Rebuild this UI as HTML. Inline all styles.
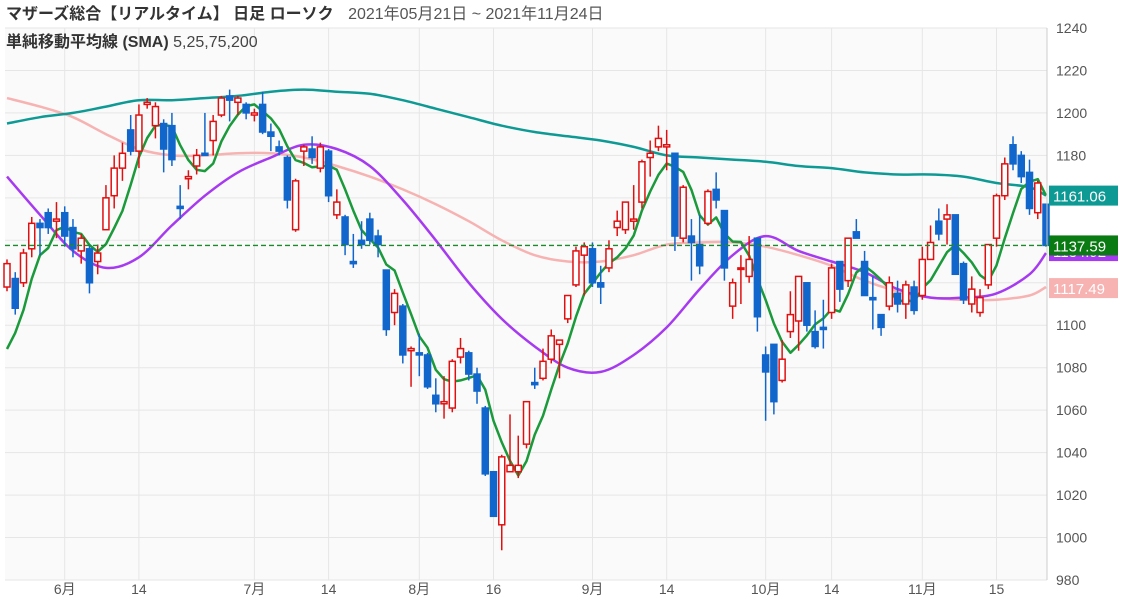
<!DOCTYPE html>
<html><head><meta charset="utf-8"><style>
body{margin:0;background:#fff;font-family:"Liberation Sans","Noto Sans CJK JP",sans-serif;}
svg text{font-family:"Liberation Sans","Noto Sans CJK JP",sans-serif;}
</style></head><body>
<svg id="chart" width="1122" height="602" xmlns="http://www.w3.org/2000/svg">
<rect x="5" y="28" width="1042" height="552" fill="#fafafa"/>
<g id="grid"></g><g id="ma"></g><g id="candles"></g><g id="axes"></g>
<text x="6" y="19" font-size="16" font-weight="bold" fill="#333">マザーズ総合【リアルタイム】 日足 ローソク <tspan font-weight="normal" fill="#555" dx="10">2021年05月21日 ~ 2021年11月24日</tspan></text>
<text x="6" y="47" font-size="16" font-weight="bold" fill="#333">単純移動平均線 (SMA) <tspan font-weight="normal" fill="#444">5,25,75,200</tspan></text>
</svg>
<script>
const opens=[1118,1122,1120,1136,1148,1153,1149,1153,1146,1135,1136,1130,1145,1161,1174,1192,1182,1204,1194,1195,1194,1156,1169,1175,1181,1187,1199,1208,1205,1204,1199,1204,1191,1184,1179,1145,1182,1183,1174,1182,1152,1151,1130,1140,1150,1142,1126,1106,1109,1088,1087,1086,1067,1063,1061,1085,1087,1077,1061,1031,1006,1031,1031,1044,1073,1075,1084,1091,1103,1119,1133,1136,1120,1127,1146,1145,1149,1158,1179,1184,1184,1181,1141,1142,1138,1148,1164,1154,1109,1127,1123,1141,1086,1091,1074,1097,1102,1120,1097,1099,1106,1130,1121,1144,1130,1113,1105,1109,1115,1110,1118,1114,1131,1149,1150,1152,1129,1110,1106,1119,1141,1161,1185,1180,1172,1153,1157];
const closes=[1129,1108,1134,1148,1146,1146,1150,1142,1136,1141,1120,1134,1160,1174,1181,1182,1199,1205,1203,1183,1178,1155,1170,1180,1180,1196,1207,1206,1207,1200,1200,1191,1189,1182,1159,1168,1184,1179,1184,1161,1158,1138,1129,1138,1140,1138,1098,1115,1086,1089,1086,1071,1063,1064,1083,1089,1077,1069,1030,1010,1038,1034,1034,1064,1072,1083,1095,1093,1114,1135,1137,1120,1118,1136,1149,1158,1150,1177,1181,1188,1185,1142,1165,1139,1128,1163,1159,1127,1120,1127,1131,1104,1078,1064,1084,1105,1123,1100,1090,1098,1127,1117,1141,1141,1114,1112,1099,1120,1110,1119,1107,1131,1139,1143,1152,1124,1112,1117,1113,1138,1161,1176,1176,1170,1155,1167,1137.59];
const highs=[1131,1125,1136,1151,1150,1155,1158,1156,1150,1143,1138,1138,1166,1180,1186,1199,1204,1207,1205,1197,1200,1166,1173,1183,1200,1199,1208,1211,1208,1205,1202,1210,1195,1187,1180,1169,1185,1189,1186,1183,1164,1152,1143,1149,1153,1145,1126,1117,1110,1090,1096,1087,1075,1076,1084,1094,1088,1080,1062,1031,1039,1058,1048,1064,1080,1089,1098,1093,1114,1137,1139,1139,1128,1140,1154,1158,1166,1178,1187,1194,1192,1181,1166,1150,1152,1164,1172,1154,1122,1133,1142,1141,1090,1091,1093,1116,1123,1120,1107,1112,1129,1130,1141,1150,1135,1123,1105,1123,1121,1121,1121,1137,1147,1155,1157,1152,1130,1123,1117,1138,1162,1179,1189,1182,1178,1168,1157];
const lows=[1116,1105,1118,1132,1133,1143,1141,1137,1132,1129,1115,1124,1145,1155,1168,1180,1174,1202,1188,1172,1175,1150,1164,1171,1180,1180,1198,1196,1199,1197,1196,1190,1182,1180,1155,1144,1175,1176,1172,1158,1150,1133,1127,1136,1138,1132,1095,1100,1082,1071,1076,1070,1059,1056,1059,1082,1074,1063,1029,1010,994,1031,1028,1042,1070,1074,1082,1075,1101,1118,1114,1118,1110,1125,1142,1143,1145,1155,1170,1182,1173,1135,1139,1121,1124,1147,1155,1121,1103,1110,1120,1097,1055,1058,1073,1094,1088,1097,1089,1089,1103,1111,1118,1141,1114,1098,1095,1107,1106,1103,1105,1112,1131,1140,1138,1124,1110,1106,1104,1117,1137,1159,1173,1167,1152,1150,1137];
const priorCloses=[1070,1080,1075,1090];
const sma25=[1170,1152,1135,1127,1132,1147,1161,1172,1179,1185,1183,1175,1159,1140,1120,1103,1090,1080,1078,1086,1099,1117,1133,1142,1135,1130,1125,1117,1113,1113,1115,1124,1134];
const sma75=[1195,1198,1200,1203,1206,1206,1207,1208,1210,1211,1210,1209,1206,1202,1198,1194,1191,1189,1187,1184,1180,1179,1178,1177,1175,1174,1172,1171,1171,1170,1167,1165,1161];
const sma200=[1207,1203,1198,1190,1183,1180,1180,1181,1181,1179,1175,1170,1164,1157,1149,1140,1133,1130,1130,1133,1138,1139,1139,1137,1133,1128,1121,1116,1113,1112,1112,1114,1118];
const yTicks=[980,1000,1020,1040,1060,1080,1100,1120,1140,1160,1180,1200,1220,1240];
const xTickLabels=['6月','14','7月','14','8月','16','9月','14','10月','14','11月','15'];
const xTickIdx=[7,16,30,39,50,59,71,80,92,100,111,120];

const NS='http://www.w3.org/2000/svg';
const X0=5,X1=1047,Y0=28,Y1=580,VMIN=980,VMAX=1240;
const step=(1046-7)/(opens.length-1);
function xs(i){return 7+i*step;}
function ys(v){return Y1-(v-VMIN)/(VMAX-VMIN)*(Y1-Y0);}
function mk(tag,attrs,parent){const e=document.createElementNS(NS,tag);for(const k in attrs)e.setAttribute(k,attrs[k]);parent.appendChild(e);return e;}
const grid=document.getElementById('grid'),axes=document.getElementById('axes'),maG=document.getElementById('ma'),cG=document.getElementById('candles');

yTicks.forEach(v=>{
  const l=mk('line',{x1:X0,x2:X1,y1:ys(v),y2:ys(v),stroke:'#e6e6e6','stroke-width':1},grid);
  
  
  const t=mk('text',{x:1056,y:ys(v)+5,'font-size':14,fill:'#555'},axes);
  t.textContent=v;
  
  
});
xTickIdx.forEach((idx,k)=>{
  const x=xs(idx);
  const l=mk('line',{x1:x,x2:x,y1:Y0,y2:Y1,stroke:'#e6e6e6','stroke-width':1},grid);
  
  
  const t=mk('text',{x:x,y:594,'font-size':14,fill:'#555','text-anchor':'middle'},axes);
  t.textContent=xTickLabels[k];
  
  
});
mk('line',{x1:X1,x2:X1,y1:Y0,y2:Y1,stroke:'#ccc'},axes);

function sampled(arr,color,name,w){
  const pts=arr.map((v,k)=>[xs(Math.min(k*4,opens.length-1)),ys(v)]);
  let d='M'+pts[0][0].toFixed(1)+','+pts[0][1].toFixed(1);
  for(let i=0;i<pts.length-1;i++){
    const p0=pts[Math.max(i-1,0)],p1=pts[i],p2=pts[i+1],p3=pts[Math.min(i+2,pts.length-1)];
    const c1x=p1[0]+(p2[0]-p0[0])/6,c1y=p1[1]+(p2[1]-p0[1])/6,c2x=p2[0]-(p3[0]-p1[0])/6,c2y=p2[1]-(p3[1]-p1[1])/6;
    d+=' C'+c1x.toFixed(1)+','+c1y.toFixed(1)+' '+c2x.toFixed(1)+','+c2y.toFixed(1)+' '+p2[0].toFixed(1)+','+p2[1].toFixed(1);
  }
  const p=mk('path',{d:d,fill:'none',stroke:color,'stroke-width':w,'stroke-linejoin':'round'},maG);
  
  
}
sampled(sma200,'#f7b2b2','sma200-line',2.5);
sampled(sma75,'#0e9a94','sma75-line',2.5);
sampled(sma25,'#a63af0','sma25-line',2.5);
const all=priorCloses.concat(closes);
const s5=closes.map((c,i)=>{let s=0;for(let j=0;j<5;j++)s+=all[i+4-j];return s/5;});
const p5=mk('polyline',{points:s5.map((v,i)=>xs(i).toFixed(1)+','+ys(v).toFixed(1)).join(' '),fill:'none',stroke:'#1a9a3a','stroke-width':2.5,'stroke-linejoin':'round'},maG);



opens.forEach((o,i)=>{
  const c=closes[i],up=c>=o,col=up?'#e01010':'#1166cc',x=xs(i);
  const g=mk('g',{},cG);
  
  
  const top=Math.max(o,c),bot=Math.min(o,c);
  mk('line',{x1:x,x2:x,y1:ys(highs[i]),y2:ys(top),stroke:col,'stroke-width':1.5},g);
  mk('line',{x1:x,x2:x,y1:ys(bot),y2:ys(lows[i]),stroke:col,'stroke-width':1.5},g);
  const h=Math.max(ys(bot)-ys(top),1.5);
  mk('rect',{x:x-3,y:ys(top),width:6,height:h,fill:up?'#fff':col,stroke:col,'stroke-width':1.5},g);
});

const last=closes[closes.length-1];
const dl=mk('line',{x1:X0,x2:X1,y1:ys(last),y2:ys(last),stroke:'#1a8a2a','stroke-width':1.3,'stroke-dasharray':'5,3'},axes);


function badge(v,bg,name,txt){
  const y=ys(v);
  const r=mk('rect',{x:1049,y:y-10,width:69,height:20,fill:bg},axes);
  
  
  const t=mk('text',{x:1053,y:y+6,'font-size':15,fill:'#fff'},axes);
  t.textContent=txt;
  
  
}
badge(1117.49,'#f7b2b2','sma200-badge','1117.49');
badge(1134.92,'#a63af0','sma25-badge','1134.92');
badge(1161.06,'#0e9a94','sma75-badge','1161.06');
badge(last,'#0a7a12','last-price-badge','1137.59');
</script>
</body></html>
